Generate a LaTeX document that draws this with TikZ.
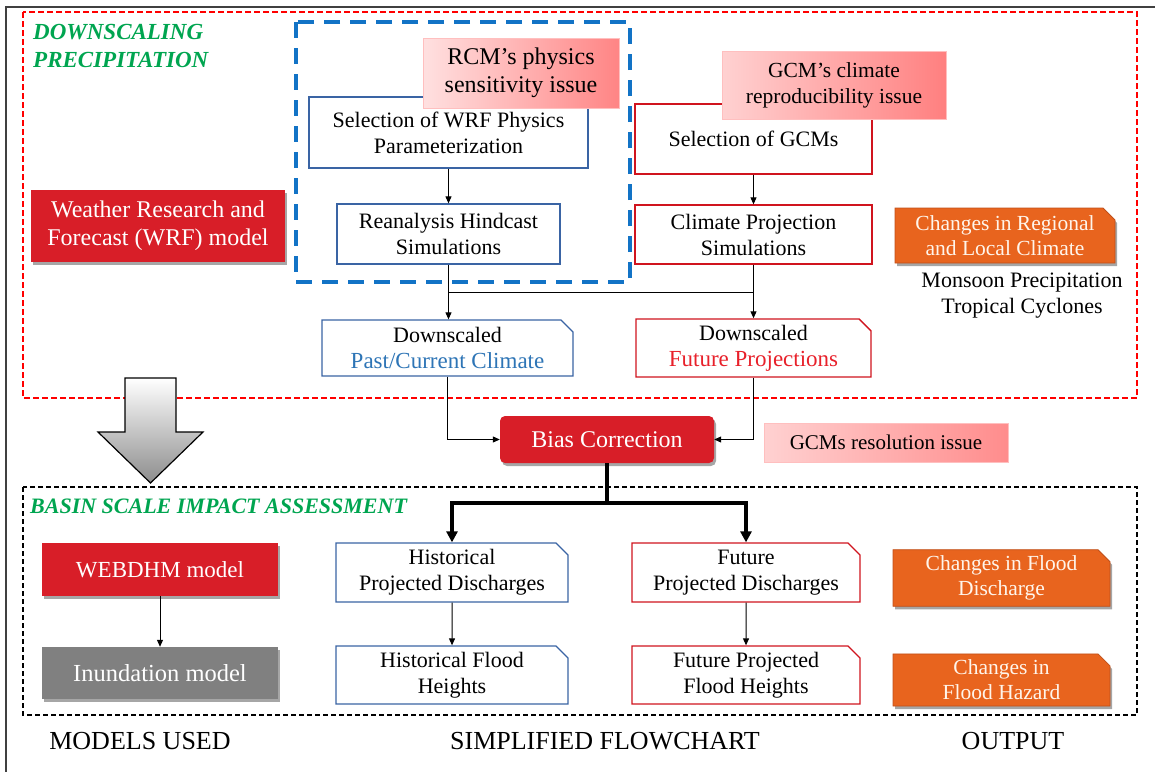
\documentclass[tikz,border=0pt]{standalone}
\usepackage{fontspec}
\setmainfont{Liberation Serif}
\usetikzlibrary{shapes.misc,shadows,arrows.meta}
\definecolor{boxred}{HTML}{D81E28}
\definecolor{lineblue}{HTML}{3A64A4}
\definecolor{linered}{HTML}{D0141E}
\definecolor{dashblue}{HTML}{1273C6}
\definecolor{headgreen}{HTML}{00A550}
\definecolor{orangefill}{HTML}{E8641E}
\definecolor{orangeline}{HTML}{C0501A}
\definecolor{txtblue}{HTML}{2E75B6}
\definecolor{txtred}{HTML}{E8202A}
\definecolor{grayfill}{HTML}{808080}
\begin{document}
\begin{tikzpicture}[x=1pt,y=-1pt,
  every node/.style={inner sep=0pt, align=center},
  shad/.style={drop shadow={shadow xshift=2pt, shadow yshift=-3pt, opacity=0.35, fill=black}},
  txt/.style={font=\fontsize{22}{26}\selectfont},
  bluebox/.style={txt, draw=lineblue, line width=1.3pt, fill=white},
  redbox/.style={txt, draw=linered, line width=1.3pt, fill=white},
  snip/.style={chamfered rectangle, chamfered rectangle corners=north east, chamfered rectangle sep=6pt},
  fillred/.style={fill=boxred, text=white, shad, font=\fontsize{23}{27}\selectfont},
  orangebox/.style={snip, fill=orangefill, draw=orangeline, line width=0.8pt, text=white!92!orange, shad, font=\fontsize{21.5}{25}\selectfont},
  pinkbox/.style={txt, draw=red!25, line width=1pt},
  arr/.style={-{Triangle[length=7pt,width=6pt]}, line width=1pt},
  thickarr/.style={-{Triangle[length=11pt,width=11pt]}, line width=4pt},
  head/.style={text=headgreen, font=\fontsize{23}{28}\selectfont\bfseries\itshape, align=left},
  foot/.style={font=\fontsize{26}{30}\selectfont}
]
\useasboundingbox (0,0) rectangle (1155,771);
% outer frame
\draw[line width=1.6pt, black!75] (6,790) -- (6,7) -- (1170,7);

% region frames
\draw[red, line width=1.8pt, dash pattern=on 6pt off 3pt] (23,12) rectangle (1137,398);
\draw[dashblue, line width=4pt, dash pattern=on 16pt off 10pt] (296,22) rectangle (630,282);
\draw[black, line width=1.8pt, dash pattern=on 5pt off 3pt] (23,487) rectangle (1137,715);

\node[head, anchor=west] (h1) at (33,46) {DOWNSCALING\\PRECIPITATION};
\node[head, font=\fontsize{22}{28}\selectfont\bfseries\itshape, anchor=west] (h2) at (30,506) {BASIN SCALE IMPACT ASSESSMENT};

% big arrow
\draw[top color=white, bottom color=black!45, draw=black, line width=1.2pt]
  (125,378) -- (176,378) -- (176,432) -- (203,432) -- (150.5,483) -- (98,432) -- (125,432) -- cycle;

% models
\node[fillred, font=\fontsize{24}{28}\selectfont, minimum width=254pt, minimum height=72pt] (wrf) at (158,226) {Weather Research and\\Forecast (WRF) model};
\node[fillred, minimum width=236pt, minimum height=53pt] (webdhm) at (160,569.5) {WEBDHM model};
\node[fill=grayfill, text=white, shad, font=\fontsize{24.5}{28}\selectfont, minimum width=236pt, minimum height=52pt] (inund) at (160,673) {Inundation model};

% flowchart top
\node[bluebox, minimum width=279pt, minimum height=71pt] (selwrf) at (448.5,132.5) {Selection of WRF Physics\\Parameterization};
\node[bluebox, minimum width=223pt, minimum height=60pt] (rean) at (448.5,234) {Reanalysis Hindcast\\Simulations};
\node[redbox, minimum width=237pt, minimum height=70pt] (selgcm) at (753.5,139) {Selection of GCMs};
\node[redbox, minimum width=237pt, minimum height=59pt] (clim) at (753.5,234.5) {Climate Projection\\Simulations};

\node[pinkbox, font=\fontsize{24}{28}\selectfont, left color=red!12, right color=red!48!white, minimum width=196pt, minimum height=70pt] (rcm) at (521,73) {RCM’s physics\\sensitivity issue};
\node[pinkbox, font=\fontsize{21.5}{26}\selectfont, left color=red!18, right color=red!50, minimum width=224pt, minimum height=68pt] (gcmc) at (834,85) {GCM’s climate\\reproducibility issue};

\node[bluebox, snip, minimum width=251pt, minimum height=56pt] (downpast) at (447.5,348) {Downscaled\\\textcolor{txtblue}{\fontsize{23}{26}\selectfont Past/Current Climate}};
\node[redbox, snip, minimum width=235pt, minimum height=56pt] (downfut) at (753.5,348) {Downscaled\\\textcolor{txtred}{\fontsize{23}{26}\selectfont Future Projections}};

\node[orangebox, minimum width=220pt, minimum height=55pt] (regional) at (1005,235.5) {Changes in Regional\\and Local Climate};
\node[txt] (monsoon) at (1022,296) {Monsoon Precipitation\\Tropical Cyclones};

\node[fillred, rounded corners=5pt, minimum width=214pt, minimum height=47pt, font=\fontsize{24}{28}\selectfont] (bias) at (607,439.5) {Bias Correction};
\node[pinkbox, font=\fontsize{21}{25}\selectfont, left color=red!18, right color=red!45, minimum width=244pt, minimum height=39pt] (gcmres) at (886,442.5) {GCMs resolution issue};

% flowchart bottom
\node[bluebox, snip, minimum width=232pt, minimum height=59pt] (histdis) at (452,572.5) {Historical\\Projected Discharges};
\node[bluebox, snip, minimum width=232pt, minimum height=58pt] (histfl) at (452,675) {Historical Flood\\Heights};
\node[redbox, snip, minimum width=228pt, minimum height=59pt] (futdis) at (746,572.5) {Future\\Projected Discharges};
\node[redbox, snip, minimum width=228pt, minimum height=58pt] (futfl) at (746,675) {Future Projected\\Flood Heights};

\node[orangebox, minimum width=217pt, minimum height=52pt] (fdis) at (1001.5,578) {Changes in Flood\\Discharge};
\node[orangebox, minimum width=217pt, minimum height=52pt] (fhaz) at (1001.5,680) {Changes in\\Flood Hazard};

% connectors
\draw[arr] (selwrf) -- (rean);
\draw[arr] (rean.south) -- (rean.south |- downpast.north);
\draw[arr] (selgcm) -- (clim);
\draw[arr] (clim.south) -- (clim.south |- downfut.north);
\coordinate (j1) at (448.5,292);
\coordinate (j2) at (753.5,292);
\draw[line width=1pt] (j1) -- (j2);
\draw[arr] (downpast.south) |- (bias.west);
\draw[arr] (downfut.south) |- (bias.east);
\coordinate (b1) at (607,503);
\draw[line width=4pt] (bias.south) -- (b1);
\draw[thickarr] (b1) -| (histdis.north);
\draw[thickarr] (b1) -| (futdis.north);
\draw[arr] (histdis) -- (histfl);
\draw[arr] (futdis) -- (futfl);
\draw[arr] (webdhm) -- (inund);

% footer
\node[foot] (f1) at (140,741) {MODELS USED};
\node[foot] (f2) at (605,741) {SIMPLIFIED FLOWCHART};
\node[foot] (f3) at (1013,741) {OUTPUT};
\end{tikzpicture}
\end{document}
